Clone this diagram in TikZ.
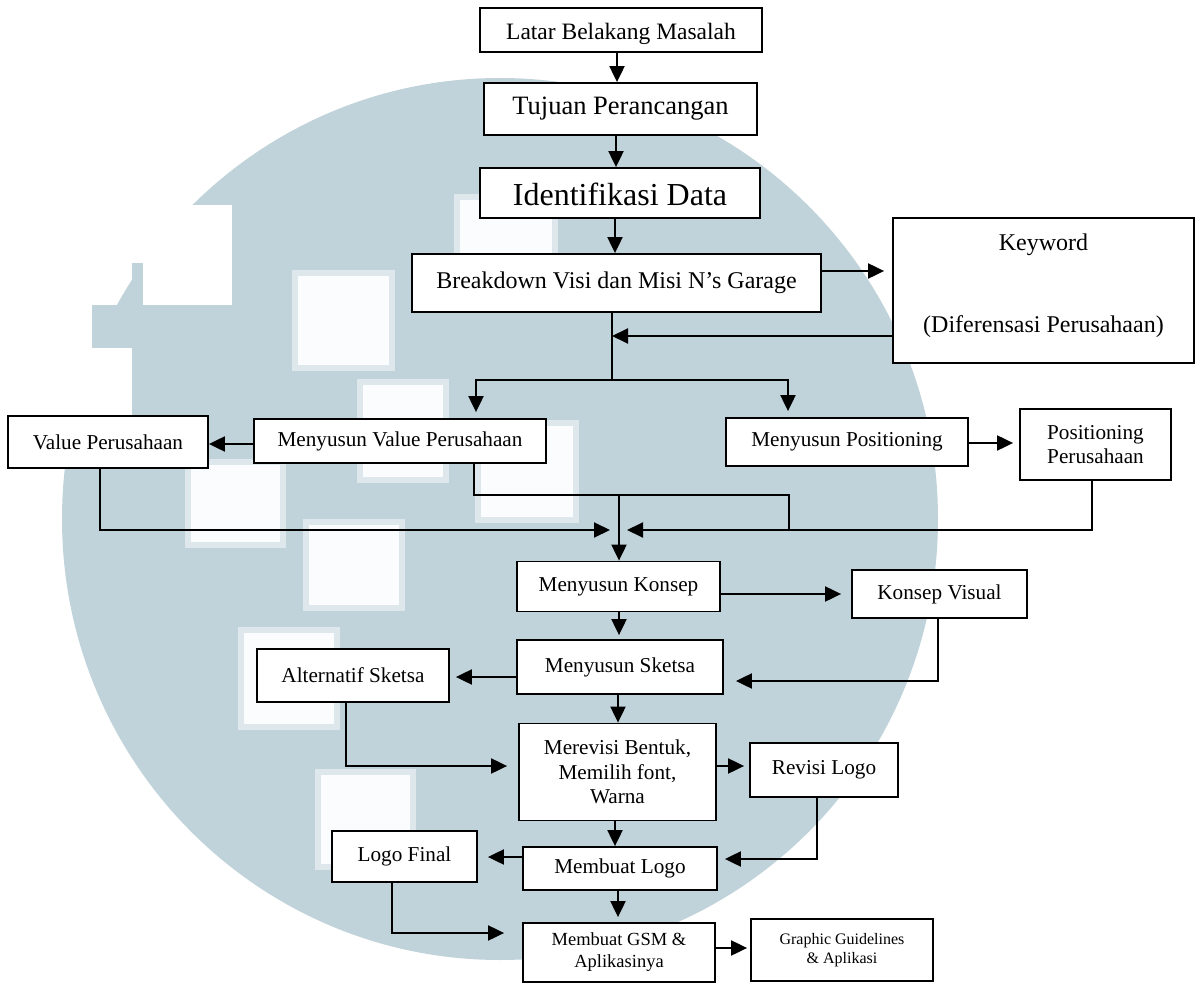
\documentclass[tikz,border=0pt]{standalone}
\usepackage{fontspec}
\setmainfont{Liberation Serif}
\usetikzlibrary{arrows.meta}
\definecolor{wm}{RGB}{193,211,218}
\definecolor{wmedge}{RGB}{222,231,235}
\definecolor{wmin}{RGB}{251,252,253}
\begin{document}
\begin{tikzpicture}[x=1pt,y=-1pt,
  box/.style={draw=black, line width=1.8pt, fill=white, inner sep=0pt, align=center,
    font=\fontsize{21.2}{24.5}\selectfont},
  txt/.style={inner sep=0pt, font=\fontsize{24}{28}\selectfont},
  ln/.style={line width=2pt},
  arr/.style={ln, -{Triangle[length=16pt,width=15pt]}},
  hole/.style={fill=wmin, draw=wmedge, line width=6pt},
  outside/.style={fill=white},
]
% canvas
\fill[white] (0,0) rectangle (1200,984);
\useasboundingbox (0,0) rectangle (1200,984);
% watermark
\fill[wm] (500,519) ellipse [x radius=438pt, y radius=441pt];
\fill[outside] (143,205) rectangle (232,305);
\fill[wm] (132,263) rectangle (143,305);
\fill[wm] (92,305) rectangle (143,348);
\fill[outside] (60,348) rectangle (132,416);
\fill[hole] (457,197) rectangle (555,292);
\fill[hole] (295,273) rectangle (392,368);
\fill[hole] (360,382) rectangle (446,480);
\fill[hole] (188,462) rectangle (283,545);
\fill[hole] (478,423) rectangle (576,520);
\fill[hole] (306,522) rectangle (402,608);
\fill[hole] (241,630) rectangle (337,727);
\fill[hole] (318,772) rectangle (413,867);

% nodes
\node[box, minimum width=282pt, minimum height=44pt, text height=20pt, text depth=0pt, font=\fontsize{23.5}{26}\selectfont] (latar) at (621,30) {Latar Belakang Masalah};
\node[box, minimum width=273pt, minimum height=52pt, font=\fontsize{26.5}{30}\selectfont] (tujuan) at (620.5,109) {Tujuan Perancangan};
\node[box, minimum width=280pt, minimum height=50pt, text height=25pt, text depth=0pt, font=\fontsize{32}{36}\selectfont] (ident) at (620,193) {Identifikasi Data};
\node[box, minimum width=409pt, minimum height=58pt, font=\fontsize{24}{28}\selectfont] (breakdown) at (616.5,283) {Breakdown Visi dan Misi N’s Garage};
\node[box, minimum width=301pt, minimum height=145pt] (keyword) at (1043.5,290.5) {};
\node[txt] (kwa) at (1043.5,245) {Keyword};
\node[txt] (kwb) at (1043.5,327) {(Diferensasi Perusahaan)};
\node[box, minimum width=292pt, minimum height=44pt] (mvalue) at (400,441) {Menyusun Value Perusahaan};
\node[box, minimum width=200pt, minimum height=52pt] (value) at (108,442) {Value Perusahaan};
\node[box, minimum width=242pt, minimum height=48pt] (mpos) at (847,442) {Menyusun Positioning};
\node[box, minimum width=151pt, minimum height=71pt] (pospers) at (1095.5,444.5) {Positioning\\Perusahaan};
\node[box, minimum width=203pt, minimum height=50pt] (mkonsep) at (618.5,586.5) {Menyusun Konsep};
\node[box, minimum width=175pt, minimum height=48pt] (kvisual) at (939.5,594) {Konsep Visual};
\node[box, minimum width=206pt, minimum height=54pt] (msketsa) at (620,667) {Menyusun Sketsa};
\node[box, minimum width=192pt, minimum height=53pt] (alt) at (353,675.5) {Alternatif Sketsa};
\node[box, minimum width=197pt, minimum height=97pt] (merevisi) at (617.5,772) {Merevisi Bentuk,\\Memilih font,\\Warna};
\node[box, minimum width=148pt, minimum height=54pt] (revisi) at (824,770) {Revisi Logo};
\node[box, minimum width=194pt, minimum height=43pt] (mlogo) at (620,868.5) {Membuat Logo};
\node[box, minimum width=145pt, minimum height=51pt] (logofinal) at (404.5,856.5) {Logo Final};
\node[box, minimum width=192pt, minimum height=59pt, font=\fontsize{18.5}{22}\selectfont] (gsm) at (619,952.5) {Membuat GSM \&\\Aplikasinya};
\node[box, minimum width=182pt, minimum height=62pt, font=\fontsize{16}{19}\selectfont] (graphic) at (842,950) {Graphic Guidelines\\\& Aplikasi};

% connectors
\draw[arr] (latar.south -| 617,0) -- (tujuan.north -| 617,0);
\draw[arr] (tujuan.south -| 616,0) -- (ident.north -| 616,0);
\draw[arr] (ident.south -| 615,0) -- (breakdown.north -| 615,0);
\draw[arr, shorten >=8pt] (breakdown.east |- 0,271) -- (keyword.west |- 0,271);
\coordinate (split) at (612,380);
\coordinate (join1) at (612,336);
\draw[arr] (keyword.west |- join1) -- (join1);
\draw[ln] (breakdown.south -| split) -- (split);
\draw[arr, shorten >=6pt] (split) -| (mvalue.north -| 476,0);
\draw[arr, shorten >=6pt] (split) -| (mpos.north -| 788,0);
\draw[arr] (mvalue.west |- 0,444) -- (value.east |- 0,444);
\draw[arr, shorten >=6pt] (mpos.east |- 0,443) -- (pospers.west |- 0,443);
\coordinate (top) at (619,495);
\draw[ln] (mvalue.south -| 474,0) |- (789,495) -- (789,530);
\draw[arr] (top) -- (mkonsep.north -| top);
\coordinate (m1) at (610,530);
\coordinate (m2) at (627,530);
\draw[arr] (value.south -| 100,0) |- (m1);
\draw[arr] (pospers.south -| 1092,0) |- (m2);
\draw[arr, shorten >=10pt] (mkonsep.east |- 0,594) -- (kvisual.west |- 0,594);
\draw[arr, shorten >=4pt] (mkonsep.south -| 619,0) -- (msketsa.north -| 619,0);
\draw[arr, shorten >=12pt] (kvisual.south -| 938,0) |- (msketsa.east |- 0,681);
\draw[arr, shorten >=6pt] (msketsa.west |- 0,677) -- (alt.east |- 0,677);
\draw[arr] (msketsa.south -| 618,0) -- (merevisi.north -| 618,0);
\draw[arr, shorten >=11pt] (alt.south -| 346,0) |- (merevisi.west |- 0,766);
\draw[arr, shorten >=5pt] (merevisi.east |- 0,766) -- (revisi.west |- 0,766);
\draw[arr] (merevisi.south -| 615,0) -- (mlogo.north -| 615,0);
\draw[arr, shorten >=7pt] (revisi.south -| 817,0) |- (mlogo.east |- 0,859);
\draw[arr, shorten >=10pt] (mlogo.west |- 0,857) -- (logofinal.east |- 0,857);
\draw[arr, shorten >=18pt] (logofinal.south -| 392,0) |- (gsm.west |- 0,933);
\draw[arr, shorten >=5pt] (mlogo.south -| 618,0) -- (gsm.north -| 618,0);
\draw[arr, shorten >=3pt] (gsm.east |- 0,948) -- (graphic.west |- 0,948);
\end{tikzpicture}
\end{document}
